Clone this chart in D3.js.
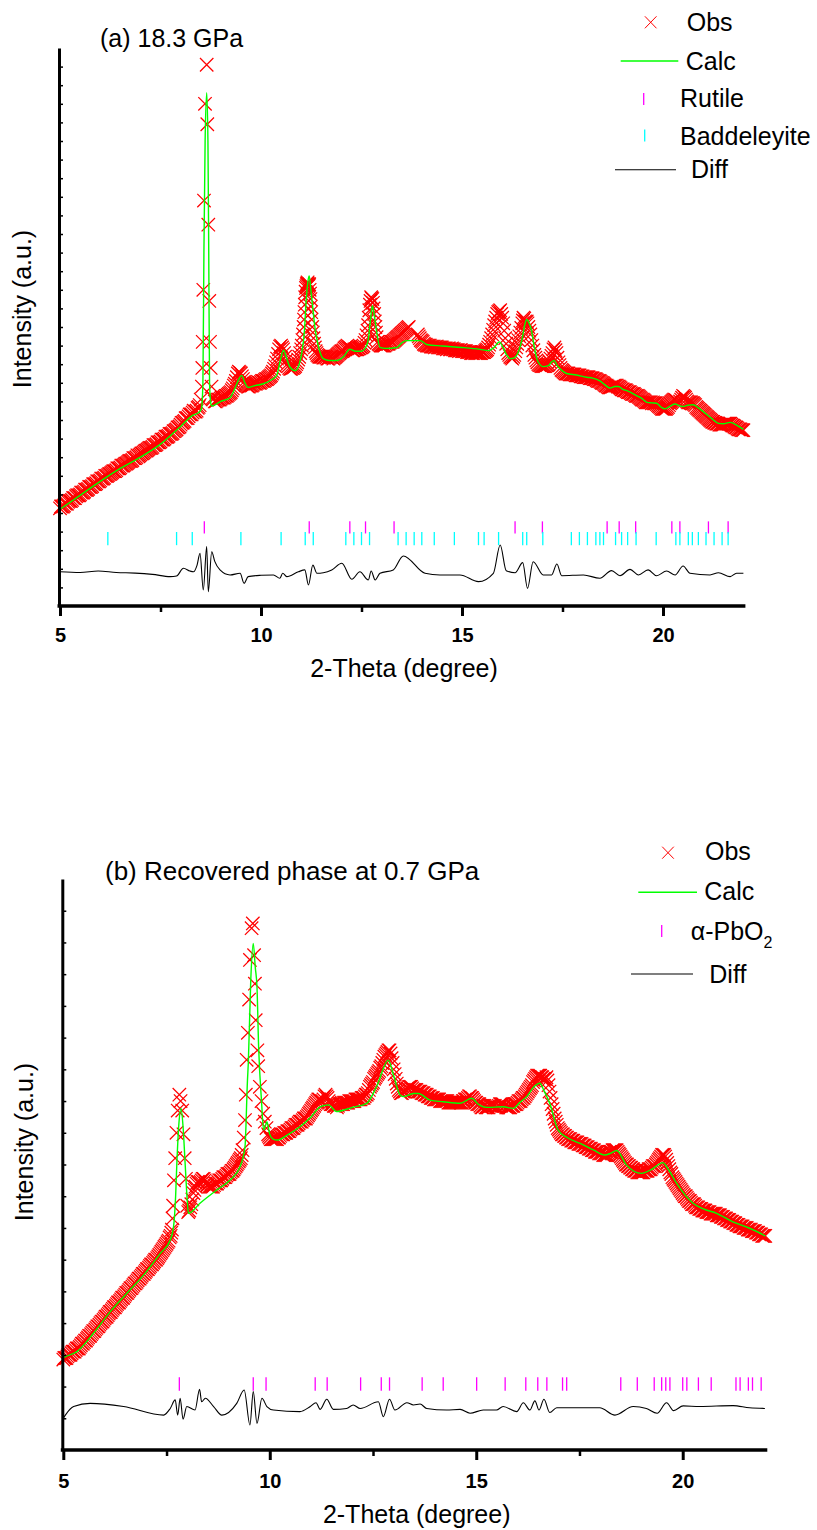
<!DOCTYPE html>
<html><head><meta charset="utf-8">
<script src="https://cdn.jsdelivr.net/npm/d3@7"></script>
<style>
body{margin:0;background:#fff}
svg{display:block}
text{font-family:"Liberation Sans",Arial,Helvetica,sans-serif;fill:#000}
</style>
</head><body>
<svg id="c" width="817" height="1530"></svg>
<script>
// ---------- shared axis data ----------
const xDomain = [5, 22];
const xTickValues = [5, 10, 15, 20];
const xMinorTicks = [7.5, 12.5, 17.5];
const xAxisTitle = "2-Theta (degree)";
const yAxisTitle = "Intensity (a.u.)";

// ---------- panel (a) 18.3 GPa ----------
const titleA = "(a) 18.3 GPa";
const legendA = ["Obs", "Calc", "Rutile", "Baddeleyite", "Diff"];
const obsA = [
[5.00,5.25],[5.05,5.35],[5.10,5.4],[5.15,5.5],[5.20,5.6],[5.25,5.65],[5.30,5.7],[5.35,5.8],[5.40,5.9],[5.45,5.95],
[5.50,6.0],[5.55,6.1],[5.60,6.15],[5.65,6.25],[5.70,6.3],[5.75,6.4],[5.80,6.45],[5.85,6.55],[5.90,6.6],[5.95,6.7],
[6.00,6.75],[6.05,6.85],[6.10,6.9],[6.15,7.0],[6.20,7.05],[6.25,7.1],[6.30,7.2],[6.35,7.25],[6.40,7.3],[6.45,7.4],
[6.50,7.45],[6.55,7.55],[6.60,7.6],[6.65,7.65],[6.70,7.75],[6.75,7.8],[6.80,7.85],[6.85,7.95],[6.90,8.0],[6.95,8.05],
[7.00,8.15],[7.05,8.2],[7.10,8.3],[7.15,8.35],[7.20,8.45],[7.25,8.5],[7.30,8.55],[7.35,8.65],[7.40,8.7],[7.45,8.8],
[7.50,8.85],[7.55,8.95],[7.60,9.0],[7.65,9.1],[7.70,9.15],[7.75,9.25],[7.80,9.3],[7.85,9.4],[7.90,9.5],[7.95,9.6],
[8.00,9.75],[8.05,9.85],[8.10,9.95],[8.15,10.1],[8.20,10.2],[8.25,10.3],[8.30,10.4],[8.35,10.45],[8.40,10.5],[8.45,10.7],
[8.50,11.1],[8.53,11.8],[8.54,12.8],[8.55,14.2],[8.565,17.0],[8.582,21.8],[8.607,27.0],[8.649,29.1],[8.664,25.9],[8.689,20.5],
[8.714,16.4],[8.731,14.2],[8.749,12.8],[8.77,11.8],[8.80,11.2],[8.85,11.0],[8.90,11.05],[8.95,11.1],[9.00,11.15],[9.05,11.2],
[9.10,11.25],[9.15,11.3],[9.20,11.4],[9.25,11.5],[9.30,11.7],[9.35,11.95],[9.40,12.3],[9.45,12.6],[9.50,12.5],[9.55,12.2],
[9.60,11.95],[9.65,11.85],[9.70,11.8],[9.75,11.85],[9.80,11.9],[9.85,11.95],[9.90,12.0],[9.95,12.0],[10.00,12.05],[10.05,12.1],
[10.10,12.15],[10.15,12.2],[10.20,12.3],[10.25,12.4],[10.30,12.6],[10.35,12.9],[10.40,13.3],[10.45,13.8],[10.50,14.0],[10.55,13.8],
[10.60,13.4],[10.65,13.0],[10.70,12.8],[10.75,12.75],[10.80,12.8],[10.85,12.9],[10.90,13.1],[10.95,13.4],[11.00,13.8],[11.03,14.3],
[11.06,15.0],[11.08,15.8],[11.10,16.6],[11.12,17.1],[11.14,17.3],[11.16,17.4],[11.18,17.2],[11.20,17.3],[11.22,16.8],[11.24,16.1],
[11.26,15.4],[11.29,14.7],[11.32,14.1],[11.36,13.7],[11.40,13.5],[11.45,13.4],[11.50,13.4],[11.55,13.35],[11.60,13.4],[11.65,13.3],
[11.70,13.35],[11.75,13.4],[11.80,13.3],[11.85,13.4],[11.90,13.5],[11.95,13.6],[12.00,13.7],[12.05,13.75],[12.10,13.9],[12.15,14.0],
[12.20,13.9],[12.25,13.8],[12.30,13.75],[12.35,13.8],[12.40,13.8],[12.45,13.85],[12.50,13.9],[12.55,14.0],[12.60,14.3],[12.65,14.8],
[12.68,15.5],[12.71,16.2],[12.74,16.6],[12.77,16.5],[12.80,16.0],[12.83,15.3],[12.86,14.7],[12.90,14.2],[12.95,14.05],[13.00,14.0],
[13.05,14.0],[13.10,14.05],[13.15,14.1],[13.20,14.15],[13.25,14.2],[13.30,14.25],[13.35,14.35],[13.40,14.45],[13.45,14.55],[13.50,14.65],
[13.55,14.75],[13.60,14.85],[13.65,14.95],
[13.90,14.6],[13.95,14.4],[14.00,14.25],[14.05,14.1],[14.10,14.05],[14.15,14.0],[14.20,14.0],[14.25,13.95],[14.30,13.95],[14.35,13.95],
[14.40,13.9],[14.45,13.9],[14.50,13.9],[14.55,13.85],[14.60,13.85],[14.65,13.85],[14.70,13.8],[14.75,13.85],[14.80,13.8],[14.85,13.75],
[14.90,13.75],[14.95,13.75],[15.00,13.7],[15.05,13.7],[15.10,13.7],[15.15,13.65],[15.20,13.65],[15.25,13.6],[15.30,13.65],[15.35,13.6],
[15.40,13.6],[15.45,13.6],[15.50,13.65],[15.55,13.65],[15.60,13.75],[15.65,13.9],[15.70,14.2],[15.75,14.6],[15.80,15.1],[15.85,15.5],
[15.90,15.8],[15.95,15.9],[16.00,15.5],[16.05,14.8],[16.10,14.1],[16.15,13.6],[16.20,13.4],[16.25,13.3],[16.30,13.5],[16.35,13.9],
[16.40,14.3],[16.45,14.7],[16.50,15.2],[16.53,15.5],[16.57,15.3],[16.61,15.3],[16.65,15.0],[16.70,14.6],[16.75,14.0],[16.80,13.5],
[16.85,13.2],[16.90,13.0],[16.95,12.95],[17.00,12.9],[17.05,12.9],[17.10,12.95],[17.15,13.0],[17.20,13.3],[17.25,13.6],[17.30,13.9],
[17.35,13.6],[17.40,13.1],[17.45,12.8],[17.50,12.65],[17.55,12.55],[17.60,12.5],[17.65,12.5],[17.70,12.45],[17.75,12.45],[17.80,12.45],
[17.85,12.4],[17.90,12.4],[17.95,12.35],[18.00,12.35],[18.05,12.3],[18.10,12.3],[18.15,12.3],[18.20,12.25],[18.25,12.25],[18.30,12.2],
[18.35,12.15],[18.40,12.1],[18.45,12.05],[18.50,12.0],[18.55,11.9],[18.60,11.85],[18.65,11.75],[18.70,11.75],[18.75,11.8],[18.80,11.85],
[18.85,11.85],[18.90,11.8],[18.95,11.7],[19.00,11.65],[19.05,11.6],[19.10,11.55],[19.15,11.5],[19.20,11.45],[19.25,11.4],[19.30,11.35],
[19.35,11.3],[19.40,11.25],[19.45,11.15],[19.50,11.1],[19.55,11.0],[19.60,10.95],[19.65,10.95],[19.70,10.95],[19.75,10.95],[19.80,10.9],
[19.85,10.85],[19.90,10.75],[19.95,10.65],[20.00,10.6],[20.05,10.6],[20.10,10.65],[20.15,10.8],[20.20,10.95],[20.25,11.05],[20.30,11.1],
[20.35,11.0],[20.40,10.9],[20.45,11.1],[20.50,11.3],[20.55,11.2],[20.60,11.0],[20.65,10.95],[20.70,10.95],[20.75,10.9],[20.80,10.8],
[20.85,10.65],[20.90,10.55],[20.95,10.45],[21.00,10.35],[21.05,10.25],[21.10,10.15],[21.15,10.05],[21.20,9.95],[21.25,9.9],[21.30,9.85],
[21.35,9.8],[21.40,9.75],[21.45,9.75],[21.50,9.75],[21.55,9.8],[21.60,9.8],[21.65,9.8],[21.70,9.75],[21.75,9.7],[21.80,9.6],
[21.85,9.55],[21.90,9.5],[21.95,9.45],[22.00,9.45]
];
const obsAmid = [
[5.025,5.35],[5.075,5.35],[5.125,5.5],[5.175,5.5],[5.225,5.65],[5.275,5.65],[5.325,5.8],[5.375,5.8],[5.425,5.95],[5.475,5.95],
[5.525,6.1],[5.575,6.1],[5.625,6.25],[5.675,6.25],[5.725,6.4],[5.775,6.4],[5.825,6.55],[5.875,6.55],[5.925,6.7],[5.975,6.7],
[6.025,6.85],[6.075,6.85],[6.125,7.0],[6.175,7.0],[6.225,7.1],[6.275,7.15],[6.325,7.25],[6.375,7.25],[6.425,7.4],[6.475,7.4],
[6.525,7.55],[6.575,7.55],[6.625,7.65],[6.675,7.7],[6.725,7.8],[6.775,7.8],[6.825,7.95],[6.875,7.95],[6.925,8.1],[6.975,8.1],
[7.025,8.2],[7.075,8.25],[7.125,8.35],[7.175,8.4],[7.225,8.5],[7.275,8.5],[7.325,8.65],[7.375,8.65],[7.425,8.8],[7.475,8.8],
[7.525,8.95],[7.575,8.95],[7.625,9.1],[7.675,9.1],[7.725,9.25],[7.775,9.25],[7.825,9.4],[7.875,9.45],[7.925,9.6],[7.975,9.65],
[8.025,9.85],[8.075,9.9],[8.125,10.1],[8.175,10.1],[8.225,10.3],[8.275,10.3],[8.325,10.5],[8.375,10.45],[8.425,10.65],[8.475,10.8],
[8.825,11.15],[8.875,11.0],[8.925,11.1],[8.975,11.1],[9.025,11.2],[9.075,11.2],[9.125,11.3],[9.175,11.35],[9.225,11.45],[9.275,11.6],
[9.325,11.85],[9.375,12.1],[9.425,12.5],[9.475,12.55],[9.525,12.35],[9.575,12.05],[9.625,11.9],[9.675,11.8],[9.725,11.85],[9.775,11.85],
[9.825,11.95],[9.875,11.95],[9.925,12.05],[9.975,12.0],[10.025,12.1],[10.075,12.1],[10.125,12.2],[10.175,12.25],[10.225,12.35],[10.275,12.5],
[10.325,12.75],[10.375,13.1],[10.425,13.55],[10.475,13.95],[10.525,13.9],[10.575,13.6],[10.625,13.2],[10.675,12.9],[10.725,12.75],[10.775,12.8],
[10.825,12.85],[10.875,13.0],[10.925,13.25],[10.975,13.6],[11.015,14.0],[11.045,14.6],[11.07,15.4],[11.09,16.2],[11.11,16.9],[11.13,17.2],
[11.15,17.35],[11.17,17.3],[11.19,17.25],[11.21,17.0],[11.23,16.5],[11.25,15.8],[11.275,15.0],[11.305,14.4],[11.34,13.9],[11.38,13.6],
[11.425,13.45],[11.475,13.4],[11.525,13.4],[11.575,13.35],[11.625,13.35],[11.675,13.3],[11.725,13.4],[11.775,13.35],[11.825,13.35],[11.875,13.45],
[11.925,13.55],[11.975,13.65],[12.025,13.7],[12.075,13.85],[12.125,13.95],[12.175,13.95],[12.225,13.85],[12.275,13.75],[12.325,13.8],[12.375,13.8],
[12.425,13.85],[12.475,13.9],[12.525,13.95],[12.575,14.15],[12.625,14.55],[12.665,15.1],[12.695,15.9],[12.725,16.4],[12.755,16.55],[12.785,16.3],
[12.815,15.7],[12.845,15.0],[12.875,14.45],[12.925,14.1],[12.975,14.0],[13.025,14.0],[13.075,14.0],[13.125,14.1],[13.175,14.1],[13.225,14.2],
[13.275,14.2],[13.325,14.3],[13.375,14.4],[13.425,14.5],[13.475,14.6],[13.525,14.7],[13.575,14.8],[13.625,14.9],[13.675,15.0],
[13.925,14.5],[13.975,14.3],[14.025,14.2],[14.075,14.05],[14.125,14.0],[14.175,14.0],[14.225,13.95],[14.275,13.95],[14.325,13.9],[14.375,13.95],
[14.425,13.9],[14.475,13.9],[14.525,13.85],[14.575,13.85],[14.625,13.8],[14.675,13.85],[14.725,13.8],[14.775,13.8],[14.825,13.75],[14.875,13.75],
[14.925,13.7],[14.975,13.75],[15.025,13.7],[15.075,13.7],[15.125,13.65],[15.175,13.65],[15.225,13.6],[15.275,13.6],[15.325,13.6],[15.375,13.6],
[15.425,13.6],[15.475,13.6],[15.525,13.65],[15.575,13.7],[15.625,13.8],[15.675,14.05],[15.725,14.4],[15.775,14.85],[15.825,15.3],[15.875,15.7],
[15.925,15.85],[15.975,15.7],[16.025,15.2],[16.075,14.4],[16.125,13.8],[16.175,13.5],[16.225,13.35],[16.275,13.4],[16.325,13.7],[16.375,14.1],
[16.425,14.5],[16.475,14.95],[16.515,15.35],[16.55,15.45],[16.59,15.25],[16.63,15.2],[16.675,14.8],[16.725,14.3],[16.775,13.75],[16.825,13.35],
[16.875,13.1],[16.925,12.95],[16.975,12.9],[17.025,12.9],[17.075,12.9],[17.125,12.95],[17.175,13.15],[17.225,13.45],[17.275,13.8],[17.325,13.75],
[17.375,13.35],[17.425,12.95],[17.475,12.7],[17.525,12.6],[17.575,12.5],[17.625,12.5],[17.675,12.45],[17.725,12.45],[17.775,12.45],[17.825,12.4],
[17.875,12.4],[17.925,12.4],[17.975,12.35],[18.025,12.3],[18.075,12.3],[18.125,12.3],[18.175,12.25],[18.225,12.25],[18.275,12.2],[18.325,12.2],
[18.375,12.1],[18.425,12.1],[18.475,12.0],[18.525,11.95],[18.575,11.85],[18.625,11.8],[18.675,11.75],[18.725,11.8],[18.775,11.85],[18.825,11.85],
[18.875,11.8],[18.925,11.75],[18.975,11.65],[19.025,11.6],[19.075,11.6],[19.125,11.5],[19.175,11.5],[19.225,11.4],[19.275,11.4],[19.325,11.3],
[19.375,11.3],[19.425,11.2],[19.475,11.1],[19.525,11.05],[19.575,10.95],[19.625,10.95],[19.675,10.95],[19.725,10.9],[19.775,10.9],[19.825,10.9],
[19.875,10.8],[19.925,10.7],[19.975,10.6],[20.025,10.6],[20.075,10.6],[20.125,10.7],[20.175,10.9],[20.225,11.0],[20.275,11.1],[20.325,11.05],
[20.375,10.95],[20.425,11.0],[20.475,11.2],[20.525,11.25],[20.575,11.1],[20.625,10.95],[20.675,10.95],[20.725,10.9],[20.775,10.85],[20.825,10.7],
[20.875,10.6],[20.925,10.5],[20.975,10.4],[21.025,10.3],[21.075,10.2],[21.125,10.1],[21.175,10.0],[21.225,9.9],[21.275,9.85],[21.325,9.8],
[21.375,9.8],[21.425,9.75],[21.475,9.75],[21.525,9.8],[21.575,9.8],[21.625,9.8],[21.675,9.8],[21.725,9.7],[21.775,9.65],[21.825,9.6],
[21.875,9.5],[21.925,9.5],[21.975,9.45]
];
const calcA = [
[5.0,5.2],[5.5,5.95],[6.0,6.7],[6.5,7.4],[7.0,8.0],[7.5,8.7],[8.0,9.65],[8.3,10.25],[8.45,10.4],[8.52,10.6],
[8.555,12],[8.58,19],[8.61,25],[8.65,27.6],[8.68,25],[8.70,19],[8.72,12],[8.75,10.9],[8.77,10.75],[9.0,11.0],
[9.23,11.2],[9.35,11.7],[9.45,12.2],[9.52,12.4],[9.6,12.0],[9.68,11.75],[9.85,11.85],[10.06,11.95],[10.25,12.15],[10.39,12.4],
[10.48,13.2],[10.56,13.75],[10.64,13.3],[10.72,12.85],[10.85,12.65],[10.95,13.0],[11.01,13.55],[11.08,14.8],[11.12,16.3],[11.17,17.5],
[11.2,17.75],[11.24,17.0],[11.29,16.0],[11.34,15.0],[11.38,14.45],[11.46,13.7],[11.55,13.3],[11.7,13.2],[11.88,13.2],[12.05,13.4],
[12.21,13.8],[12.35,13.7],[12.5,13.7],[12.6,13.9],[12.67,14.35],[12.72,15.3],[12.77,16.15],[12.82,15.6],[12.88,14.7],[12.96,13.9],
[13.1,13.85],[13.38,13.9],[13.5,14.15],[13.62,14.27],[13.96,14.27],[14.12,14.06],[14.5,13.98],[15.0,13.9],[15.45,13.8],[15.66,13.73],
[15.8,13.9],[15.93,14.2],[16.02,13.9],[16.11,13.5],[16.2,13.3],[16.28,13.32],[16.4,13.65],[16.5,14.4],[16.56,15.1],[16.61,15.4],
[16.67,15.2],[16.73,14.8],[16.8,13.9],[16.86,13.3],[16.95,12.95],[17.02,12.87],[17.15,12.92],[17.22,13.1],[17.29,13.2],[17.36,12.95],
[17.44,12.75],[17.6,12.5],[17.85,12.42],[18.1,12.3],[18.25,12.25],[18.43,12.1],[18.55,11.9],[18.68,11.72],[18.8,11.8],[18.89,11.8],
[19.0,11.65],[19.1,11.58],[19.35,11.3],[19.48,11.15],[19.6,10.95],[19.72,10.92],[19.84,10.9],[19.95,10.7],[20.05,10.6],[20.18,10.75],
[20.3,10.86],[20.4,10.78],[20.5,10.72],[20.62,10.8],[20.75,10.82],[20.88,10.65],[21.0,10.45],[21.2,10.1],[21.38,9.82],[21.5,9.8],
[21.67,9.87],[21.85,9.7],[22.0,9.5]
];
const diffA = [
[5.0,1.84],[5.5,1.8],[5.95,1.88],[6.4,1.8],[6.87,1.77],[7.3,1.7],[7.74,1.58],[7.9,1.61],[8.07,2.03],[8.23,1.88],
[8.32,1.84],[8.41,2.2],[8.483,2.83],[8.565,0.86],[8.649,3.19],[8.689,0.77],[8.774,2.92],[8.85,2.4],[8.98,1.94],[9.23,1.67],
[9.48,1.76],[9.58,1.22],[9.68,1.58],[10.0,1.65],[10.31,1.67],[10.47,1.49],[10.54,1.76],[10.64,1.58],[10.93,1.84],[11.09,1.94],
[11.18,1.13],[11.29,2.2],[11.39,1.76],[11.55,1.79],[11.76,1.94],[12.01,2.3],[12.26,1.44],[12.46,1.84],[12.67,1.4],[12.74,1.88],
[12.84,1.4],[12.96,1.76],[13.29,1.94],[13.54,2.69],[14.08,1.76],[14.45,1.67],[14.95,1.67],[15.41,1.31],[15.78,1.76],[15.95,3.28],
[16.1,1.9],[16.32,1.79],[16.51,2.33],[16.63,0.95],[16.77,2.38],[17.02,1.67],[17.23,1.67],[17.36,2.26],[17.48,1.63],[18.02,1.67],
[18.43,1.49],[18.72,1.9],[18.93,1.63],[19.18,1.97],[19.39,1.67],[19.63,1.94],[19.84,1.63],[20.09,1.88],[20.3,1.67],[20.5,2.15],
[20.67,1.76],[21.17,1.67],[21.38,1.79],[21.67,1.58],[21.83,1.76],[22.0,1.76]
];
const rutileA = [8.59,11.2,12.21,12.6,13.31,16.32,17.0,18.61,18.91,19.32,20.22,20.42,21.13,21.62];
const baddeleyiteA = [6.19,7.9,8.29,9.5,10.5,11.1,11.3,12.11,12.31,12.5,12.7,13.41,13.61,13.81,14.0,14.31,14.81,15.41,15.55,15.91,16.51,16.61,17.01,17.72,17.92,18.12,18.33,18.43,18.52,18.82,18.97,19.12,19.33,19.83,20.32,20.42,20.63,20.73,20.88,21.07,21.27,21.47,21.62];

// ---------- panel (b) recovered phase ----------
const titleB = "(b) Recovered phase at 0.7 GPa";
const legendB = ["Obs", "Calc", "α-PbO", "Diff"];
const obsB = [
[5.00,2.85],[5.05,2.9],[5.10,2.95],[5.15,3.0],[5.20,3.05],[5.25,3.1],[5.30,3.15],[5.35,3.2],[5.40,3.25],[5.45,3.35],
[5.50,3.4],[5.55,3.45],[5.60,3.55],[5.65,3.6],[5.70,3.7],[5.75,3.75],[5.80,3.85],[5.85,3.9],[5.90,4.0],[5.95,4.05],
[6.00,4.15],[6.05,4.2],[6.10,4.3],[6.15,4.35],[6.20,4.45],[6.25,4.5],[6.30,4.6],[6.35,4.65],[6.40,4.75],[6.45,4.8],
[6.50,4.9],[6.55,4.95],[6.60,5.05],[6.65,5.1],[6.70,5.2],[6.75,5.25],[6.80,5.35],[6.85,5.4],[6.90,5.5],[6.95,5.55],
[7.00,5.65],[7.05,5.7],[7.10,5.8],[7.15,5.85],[7.20,5.95],[7.25,6.0],[7.30,6.1],[7.35,6.2],[7.40,6.3],[7.45,6.4],
[7.50,6.5],[7.55,6.6],[7.60,6.75],[7.63,6.95],[7.66,7.7],[7.68,8.5],[7.71,9.2],[7.74,10.0],[7.77,10.7],[7.81,11.2],
[7.84,11.0],[7.88,10.7],[7.91,9.95],[7.94,9.2],[7.97,8.55],[8.00,7.7],[8.05,7.55],[8.10,7.75],[8.15,8.1],[8.20,8.3],
[8.25,8.45],[8.30,8.4],[8.35,8.5],[8.40,8.55],[8.45,8.4],[8.50,8.35],[8.55,8.3],[8.60,8.3],[8.65,8.35],[8.70,8.4],
[8.75,8.45],[8.80,8.5],[8.85,8.55],[8.90,8.6],[8.95,8.65],[9.00,8.7],[9.05,8.75],[9.10,8.8],[9.15,8.9],[9.20,9.0],
[9.25,9.1],[9.30,9.2],[9.34,9.45],[9.37,9.85],[9.40,10.4],[9.42,11.2],[9.44,12.3],[9.47,13.15],[9.50,14.2],[9.52,15.45],
[9.56,16.45],[9.59,16.6],[9.62,15.6],[9.64,14.7],[9.66,13.55],[9.70,12.6],[9.72,12.1],[9.76,11.45],[9.80,11.0],[9.84,10.6],
[9.88,10.35],[9.92,10.15],[9.96,9.95],[10.00,9.85],[10.05,9.8],[10.10,9.8],[10.15,9.8],[10.20,9.85],[10.25,9.9],[10.30,9.95],
[10.35,10.0],[10.40,10.0],[10.45,10.05],[10.50,10.1],[10.55,10.15],[10.60,10.2],[10.65,10.25],[10.70,10.3],[10.75,10.35],[10.80,10.4],
[10.85,10.45],[10.90,10.5],[10.95,10.6],[11.00,10.7],[11.05,10.8],[11.10,10.9],[11.15,11.0],[11.20,11.05],[11.25,11.0],[11.30,11.05],
[11.35,11.2],[11.40,11.1],[11.45,10.95],[11.50,10.9],[11.55,10.85],[11.60,10.85],[11.65,10.85],[11.70,10.9],[11.75,10.9],[11.80,10.95],
[11.85,10.95],[11.90,10.95],[11.95,11.0],[12.00,11.0],[12.05,11.0],[12.10,11.05],[12.15,11.05],[12.20,11.05],[12.25,11.1],[12.30,11.15],
[12.35,11.2],[12.40,11.35],[12.45,11.5],[12.50,11.6],[12.55,11.75],[12.60,11.85],[12.65,11.95],[12.70,12.1],[12.75,12.3],[12.80,12.45],
[12.85,12.55],[12.90,12.6],[12.95,12.35],[13.00,12.0],[13.05,11.7],[13.10,11.45],[13.15,11.3],[13.20,11.25],[13.25,11.3],[13.30,11.35],
[13.35,11.4],[13.40,11.45],[13.45,11.4],[13.50,11.35],[13.55,11.35],[13.60,11.3],[13.65,11.3],[13.70,11.25],[13.75,11.2],[13.80,11.2],
[13.85,11.15],[13.90,11.1],[13.95,11.1],[14.00,11.05],[14.05,11.05],[14.10,11.05],[14.15,11.0],[14.20,11.0],[14.25,11.0],[14.30,11.0],
[14.35,10.95],[14.40,10.95],[14.45,10.95],[14.50,10.95],[14.55,10.95],[14.60,10.95],[14.65,10.95],[14.70,11.0],[14.75,11.05],[14.80,11.1],
[14.85,11.15],[14.90,11.1],[14.95,11.0],[15.00,10.95],[15.05,10.9],[15.10,10.85],[15.15,10.8],[15.20,10.85],[15.25,10.8],[15.30,10.8],
[15.35,10.85],[15.40,10.85],[15.45,10.85],[15.50,10.8],[15.55,10.85],[15.60,10.9],[15.65,10.9],[15.70,10.85],[15.75,10.8],[15.80,10.8],
[15.85,10.85],[15.90,10.85],[15.95,10.9],[16.00,10.95],[16.05,11.0],[16.10,11.05],[16.15,11.1],[16.20,11.2],[16.25,11.3],[16.30,11.4],
[16.35,11.5],[16.40,11.65],[16.45,11.75],[16.50,11.8],[16.55,11.8],[16.60,11.75],[16.65,11.7],[16.70,11.75],[16.75,11.5],[16.80,11.1],
[16.85,10.75],[16.90,10.45],[16.95,10.25],[17.00,10.1],[17.05,10.0],[17.10,9.95],[17.15,9.9],[17.20,9.85],[17.25,9.8],[17.30,9.75],
[17.35,9.75],[17.40,9.7],[17.45,9.7],[17.50,9.65],[17.55,9.65],[17.60,9.6],[17.65,9.55],[17.70,9.55],[17.75,9.5],[17.80,9.45],
[17.85,9.45],[17.90,9.4],[17.95,9.4],[18.00,9.35],[18.05,9.35],[18.10,9.3],[18.15,9.3],[18.20,9.35],[18.25,9.4],[18.30,9.45],
[18.35,9.45],[18.40,9.45],[18.45,9.35],[18.50,9.25],[18.55,9.15],[18.60,9.05],[18.65,9.0],[18.70,8.95],[18.75,8.9],[18.80,8.85],
[18.85,8.8],[18.90,8.75],[18.95,8.75],[19.00,8.75],[19.05,8.75],[19.10,8.8],[19.15,8.8],[19.20,8.85],[19.25,8.9],[19.30,8.95],
[19.35,9.0],[19.40,9.1],[19.45,9.2],[19.50,9.3],[19.55,9.3],[19.60,9.15],[19.65,8.95],[19.70,8.75],[19.75,8.6],[19.80,8.5],
[19.85,8.4],[19.90,8.3],[19.95,8.2],[20.00,8.1],[20.05,8.0],[20.10,7.95],[20.15,7.85],[20.20,7.8],[20.25,7.75],[20.30,7.7],
[20.35,7.65],[20.40,7.6],[20.45,7.6],[20.50,7.55],[20.55,7.55],[20.60,7.5],[20.65,7.5],[20.70,7.45],[20.75,7.45],[20.80,7.45],
[20.85,7.4],[20.90,7.4],[20.95,7.35],[21.00,7.3],[21.05,7.3],[21.10,7.25],[21.15,7.2],[21.20,7.2],[21.25,7.15],[21.30,7.1],
[21.35,7.1],[21.40,7.05],[21.45,7.05],[21.50,7.0],[21.55,7.0],[21.60,6.95],[21.65,6.95],[21.70,6.9],[21.75,6.9],[21.80,6.85],
[21.85,6.8],[21.90,6.8],[21.95,6.75],[22.00,6.75]
];
const obsBmid = [
[5.025,2.9],[5.075,2.9],[5.125,3.0],[5.175,3.0],[5.225,3.1],[5.275,3.1],[5.325,3.2],[5.375,3.2],[5.425,3.3],[5.475,3.35],
[5.525,3.45],[5.575,3.5],[5.625,3.6],[5.675,3.65],[5.725,3.75],[5.775,3.8],[5.825,3.9],[5.875,3.95],[5.925,4.05],[5.975,4.1],
[6.025,4.2],[6.075,4.25],[6.125,4.35],[6.175,4.4],[6.225,4.5],[6.275,4.55],[6.325,4.65],[6.375,4.7],[6.425,4.8],[6.475,4.85],
[6.525,4.95],[6.575,5.0],[6.625,5.1],[6.675,5.15],[6.725,5.25],[6.775,5.3],[6.825,5.4],[6.875,5.45],[6.925,5.55],[6.975,5.6],
[7.025,5.7],[7.075,5.75],[7.125,5.85],[7.175,5.9],[7.225,6.0],[7.275,6.05],[7.325,6.15],[7.375,6.25],[7.425,6.35],[7.475,6.45],
[7.525,6.55],[7.575,6.7],[7.615,6.85],[7.645,7.3],
[8.025,7.5],[8.075,7.65],[8.125,7.9],[8.175,8.2],[8.225,8.4],[8.275,8.45],[8.325,8.45],[8.375,8.55],[8.425,8.5],[8.475,8.35],
[8.525,8.3],[8.575,8.3],[8.625,8.3],[8.675,8.4],[8.725,8.4],[8.775,8.5],[8.825,8.5],[8.875,8.6],[8.925,8.6],[8.975,8.7],
[9.025,8.7],[9.075,8.8],[9.125,8.85],[9.175,8.95],[9.225,9.05],[9.275,9.15],[9.32,9.3],
[9.98,9.9],[10.025,9.8],[10.075,9.8],[10.125,9.8],[10.175,9.8],[10.225,9.85],[10.275,9.95],[10.325,9.95],[10.375,10.0],[10.425,10.05],
[10.475,10.05],[10.525,10.15],[10.575,10.15],[10.625,10.25],[10.675,10.25],[10.725,10.35],[10.775,10.35],[10.825,10.45],[10.875,10.45],[10.925,10.55],
[10.975,10.65],[11.025,10.75],[11.075,10.85],[11.125,10.95],[11.175,11.05],[11.225,11.0],[11.275,11.0],[11.325,11.15],[11.375,11.15],[11.425,11.0],
[11.475,10.9],[11.525,10.9],[11.575,10.85],[11.625,10.8],[11.675,10.9],[11.725,10.9],[11.775,10.9],[11.825,10.95],[11.875,10.95],[11.925,11.0],
[11.975,11.0],[12.025,11.0],[12.075,11.05],[12.125,11.05],[12.175,11.05],[12.225,11.1],[12.275,11.1],[12.325,11.2],[12.375,11.25],[12.425,11.45],
[12.475,11.55],[12.525,11.7],[12.575,11.8],[12.625,11.9],[12.675,12.05],[12.725,12.2],[12.775,12.4],[12.825,12.5],[12.875,12.6],[12.925,12.5],
[12.975,12.2],[13.025,11.85],[13.075,11.55],[13.125,11.35],[13.175,11.25],[13.225,11.3],[13.275,11.3],[13.325,11.4],[13.375,11.45],[13.425,11.45],
[13.475,11.35],[13.525,11.35],[13.575,11.3],[13.625,11.3],[13.675,11.25],[13.725,11.25],[13.775,11.2],[13.825,11.15],[13.875,11.15],[13.925,11.1],
[13.975,11.05],[14.025,11.05],[14.075,11.05],[14.125,11.0],[14.175,11.0],[14.225,11.0],[14.275,11.0],[14.325,10.95],[14.375,10.95],[14.425,10.95],
[14.475,10.95],[14.525,10.95],[14.575,10.95],[14.625,10.95],[14.675,11.0],[14.725,11.05],[14.775,11.05],[14.825,11.15],[14.875,11.1],[14.925,11.05],
[14.975,10.95],[15.025,10.9],[15.075,10.9],[15.125,10.8],[15.175,10.85],[15.225,10.8],[15.275,10.8],[15.325,10.85],[15.375,10.85],[15.425,10.85],
[15.475,10.8],[15.525,10.8],[15.575,10.9],[15.625,10.9],[15.675,10.85],[15.725,10.8],[15.775,10.8],[15.825,10.8],[15.875,10.85],[15.925,10.9],
[15.975,10.9],[16.025,11.0],[16.075,11.0],[16.125,11.1],[16.175,11.15],[16.225,11.25],[16.275,11.35],[16.325,11.45],[16.375,11.6],[16.425,11.7],
[16.475,11.8],[16.525,11.8],[16.575,11.75],[16.625,11.7],[16.675,11.7],[16.725,11.65],[16.775,11.3],[16.825,10.9],[16.875,10.6],[16.925,10.35],
[16.975,10.15],[17.025,10.05],[17.075,9.95],[17.125,9.9],[17.175,9.85],[17.225,9.8],[17.275,9.8],[17.325,9.75],[17.375,9.7],[17.425,9.7],
[17.475,9.65],[17.525,9.65],[17.575,9.6],[17.625,9.6],[17.675,9.55],[17.725,9.5],[17.775,9.5],[17.825,9.45],[17.875,9.4],[17.925,9.4],
[17.975,9.35],[18.025,9.35],[18.075,9.3],[18.125,9.3],[18.175,9.3],[18.225,9.4],[18.275,9.4],[18.325,9.45],[18.375,9.45],[18.425,9.4],
[18.475,9.3],[18.525,9.2],[18.575,9.1],[18.625,9.0],[18.675,8.95],[18.725,8.9],[18.775,8.85],[18.825,8.8],[18.875,8.8],[18.925,8.75],
[18.975,8.75],[19.025,8.75],[19.075,8.8],[19.125,8.8],[19.175,8.85],[19.225,8.85],[19.275,8.95],[19.325,8.95],[19.375,9.05],[19.425,9.15],
[19.475,9.25],[19.525,9.3],[19.575,9.25],[19.625,9.05],[19.675,8.85],[19.725,8.7],[19.775,8.55],[19.825,8.45],[19.875,8.35],[19.925,8.25],
[19.975,8.15],[20.025,8.05],[20.075,8.0],[20.125,7.9],[20.175,7.85],[20.225,7.75],[20.275,7.75],[20.325,7.65],[20.375,7.65],[20.425,7.6],
[20.475,7.55],[20.525,7.55],[20.575,7.5],[20.625,7.5],[20.675,7.45],[20.725,7.45],[20.775,7.45],[20.825,7.4],[20.875,7.4],[20.925,7.35],
[20.975,7.35],[21.025,7.3],[21.075,7.25],[21.125,7.25],[21.175,7.2],[21.225,7.15],[21.275,7.15],[21.325,7.1],[21.375,7.05],[21.425,7.05],
[21.475,7.0],[21.525,7.0],[21.575,6.95],[21.625,6.95],[21.675,6.9],[21.725,6.9],[21.775,6.85],[21.825,6.85],[21.875,6.8],[21.925,6.75],
[21.975,6.75]
];
const calcB = [
[5.0,2.9],[5.05,2.94],[5.33,3.1],[5.73,3.68],[6.1,4.3],[6.54,4.94],[7.0,5.6],[7.35,6.2],[7.59,6.62],[7.67,7.04],
[7.72,8.0],[7.75,9.04],[7.8,10.3],[7.85,10.77],[7.9,10.2],[7.95,9.04],[8.0,7.9],[8.03,7.46],[8.31,7.78],[8.72,8.2],
[9.04,8.51],[9.28,8.93],[9.4,9.56],[9.46,11.66],[9.48,12.19],[9.54,14.82],[9.6,15.97],[9.65,15.2],[9.69,14.61],[9.73,12.71],
[9.8,11.0],[9.85,10.09],[9.89,10.2],[9.93,10.35],[10.0,9.95],[10.08,9.8],[10.17,9.77],[10.45,9.95],[10.73,10.19],[11.0,10.5],
[11.22,10.82],[11.42,10.88],[11.62,10.67],[12.0,10.8],[12.35,10.93],[12.6,11.5],[12.87,12.29],[13.0,11.8],[13.15,11.2],[13.23,11.14],
[13.48,11.24],[13.6,11.24],[13.88,11.03],[14.2,10.98],[14.61,10.93],[14.89,11.09],[15.05,10.9],[15.25,10.8],[15.65,10.82],[15.9,10.77],
[16.05,10.95],[16.22,11.14],[16.4,11.45],[16.54,11.56],[16.65,11.3],[16.78,10.93],[16.98,10.09],[17.2,9.85],[17.59,9.62],[17.85,9.45],
[18.11,9.3],[18.25,9.35],[18.4,9.44],[18.64,8.98],[19.0,8.72],[19.25,8.85],[19.52,9.06],[19.65,8.85],[19.85,8.41],[20.25,7.78],
[20.5,7.6],[20.82,7.46],[21.2,7.2],[21.62,6.99],[22.0,6.75]
];
const diffB = [
[5.0,1.0],[5.05,1.1],[5.25,1.37],[5.65,1.47],[6.46,1.37],[7.43,1.1],[7.59,1.31],[7.71,1.58],[7.77,1.1],[7.83,1.63],
[7.9,0.97],[7.99,1.37],[8.19,1.26],[8.3,1.91],[8.35,1.52],[8.44,1.63],[8.64,1.37],[8.84,1.1],[9.2,1.47],[9.38,1.89],
[9.52,0.79],[9.6,1.84],[9.69,0.84],[9.81,1.63],[9.93,1.37],[10.09,1.26],[10.73,1.21],[10.98,1.37],[11.12,1.49],[11.22,1.28],
[11.38,1.6],[11.54,1.28],[11.86,1.31],[12.02,1.42],[12.19,1.31],[12.63,1.52],[12.75,1.05],[12.9,1.6],[13.03,1.26],[13.32,1.49],
[13.48,1.42],[13.64,1.45],[13.8,1.31],[14.28,1.26],[14.61,1.28],[14.85,1.16],[15.17,1.26],[15.49,1.26],[15.65,1.37],[15.98,1.21],
[16.14,1.49],[16.3,1.26],[16.42,1.55],[16.52,1.26],[16.64,1.6],[16.78,1.18],[16.95,1.33],[17.99,1.33],[18.36,1.1],[18.8,1.37],
[19.12,1.31],[19.38,1.16],[19.61,1.49],[19.78,1.24],[20.01,1.39],[20.41,1.37],[21.22,1.4],[21.62,1.33],[21.99,1.31]
];
const pbo2B = [7.81,9.6,9.91,11.1,11.39,12.2,12.7,12.9,13.69,14.2,15.01,15.7,16.2,16.49,16.71,17.09,17.19,18.5,18.9,19.31,19.49,19.59,19.69,20.0,20.1,20.38,20.69,21.29,21.39,21.59,21.69,21.9];

// ---------- drawing ----------
const svg = d3.select("#c");
const FONT = 25;
const RED = "#ff0000", GREEN = "#00ff00", MAGENTA = "#ff00ff", CYAN = "#00ffff";
const xMark = "M-6.7,-6.7L6.7,6.7M-6.7,6.7L6.7,-6.7";

function drawPanel(p) {
  const x = d3.scaleLinear().domain(xDomain).range(p.xRange);
  const y = d3.scaleLinear().domain(p.yDomain).range(p.yRange);
  const g = svg.append("g");

  p.phases.forEach(ph => {
    g.append("g").selectAll("line").data(ph.values).join("line")
      .attr("x1", d => x(d)).attr("x2", d => x(d))
      .attr("y1", y(ph.lo)).attr("y2", y(ph.hi))
      .attr("stroke", ph.color).attr("stroke-width", 1.3);
  });

  g.append("path").datum(p.diff)
    .attr("d", d3.line().x(d => x(d[0])).y(d => y(d[1])).curve(d3.curveMonotoneX))
    .attr("fill", "none").attr("stroke", "#000").attr("stroke-width", 1.1);

  const obsAll = p.obs.concat(p.obsMid).sort((a, b) => a[0] - b[0]);
  g.append("g").selectAll("path").data(obsAll).join("path")
    .attr("transform", d => `translate(${x(d[0])},${y(d[1])})`)
    .attr("d", xMark).attr("fill", "none").attr("stroke", RED).attr("stroke-width", 1.25);

  g.append("path").datum(p.calc)
    .attr("d", d3.line().x(d => x(d[0])).y(d => y(d[1])).curve(d3.curveMonotoneX))
    .attr("fill", "none").attr("stroke", GREEN).attr("stroke-width", 1.4);

  const yTicks = d3.range(p.yDomain[0] + 1, p.yDomain[1], 1);
  const ya = g.append("g").attr("transform", `translate(${p.xRange[0] - 1},0)`)
    .call(d3.axisLeft(y).tickValues(yTicks).tickSize(-4).tickSizeOuter(0).tickFormat(""));
  ya.select(".domain").attr("stroke-width", 3);
  ya.selectAll(".tick line").attr("stroke-width", 1.5);

  const xa = g.append("g").attr("transform", `translate(0,${p.yRange[0]})`)
    .call(d3.axisBottom(x).tickValues(xTickValues).tickSize(10).tickSizeOuter(0).tickPadding(p.tickPad).tickFormat(d3.format("d")));
  xa.select(".domain").attr("stroke-width", 3.5).attr("d", `M${p.xRange[0]-2.5},0H${p.xRange[1]+2}`);
  xa.selectAll(".tick line").attr("stroke-width", 3);
  xa.selectAll(".tick text").attr("font-size", 20).attr("font-weight", "bold")
    .style("font-family", '"Liberation Sans",Arial,sans-serif');
  const xm = g.append("g").attr("transform", `translate(0,${p.yRange[0]})`)
    .call(d3.axisBottom(x).tickValues(xMinorTicks).tickSize(6).tickFormat(""));
  xm.select(".domain").remove();
  xm.selectAll(".tick line").attr("stroke-width", 2.5);

  g.append("text").attr("x", p.titlePos[0]).attr("y", p.titlePos[1])
    .attr("font-size", p.titleSize).text(p.title);
  g.append("text").attr("x", p.xTitlePos[0]).attr("y", p.xTitlePos[1])
    .attr("text-anchor", "middle").attr("font-size", FONT).text(xAxisTitle);
  g.append("text").attr("transform", `translate(${p.yTitlePos[0]},${p.yTitlePos[1]}) rotate(-90)`)
    .attr("text-anchor", "middle").attr("font-size", FONT).text(yAxisTitle);

  const lg = g.append("g");
  p.legend.forEach(it => {
    if (it.kind === "obs") {
      lg.append("path").attr("transform", `translate(${it.sx},${it.sy})`).attr("d", "M-5.8,-6L5.8,6M-5.8,6L5.8,-6")
        .attr("fill", "none").attr("stroke", RED).attr("stroke-width", 1);
    } else if (it.kind === "line") {
      lg.append("line").attr("x1", it.sx).attr("x2", it.sx2).attr("y1", it.sy).attr("y2", it.sy)
        .attr("stroke", it.color).attr("stroke-width", it.color === GREEN ? 1.4 : 1.1);
    } else if (it.kind === "tick") {
      lg.append("line").attr("x1", it.sx).attr("x2", it.sx).attr("y1", it.sy - 6).attr("y2", it.sy + 6)
        .attr("stroke", it.color).attr("stroke-width", 1.3);
    }
    const t = lg.append("text").attr("x", it.tx).attr("y", it.ty).attr("font-size", FONT).text(it.label);
    if (it.sub) t.append("tspan").attr("font-size", 16).attr("dy", 8).text(it.sub);
  });
}

drawPanel({
  xRange: [60, 743.4], yDomain: [0, 30], yRange: [606, 48], tickPad: 12,
  obs: obsA, obsMid: obsAmid, calc: calcA, diff: diffA,
  phases: [
    {values: rutileA, lo: 3.9, hi: 4.55, color: MAGENTA},
    {values: baddeleyiteA, lo: 3.27, hi: 3.98, color: CYAN}
  ],
  title: titleA, titlePos: [100, 47], titleSize: 25,
  xTitlePos: [404, 677], yTitlePos: [31, 309],
  legend: [
    {kind: "obs", sx: 650.7, sy: 22.3, tx: 686.7, ty: 31, label: legendA[0]},
    {kind: "line", sx: 620.7, sx2: 678.3, sy: 61, color: GREEN, tx: 685.7, ty: 70, label: legendA[1]},
    {kind: "tick", sx: 643.7, sy: 99, color: MAGENTA, tx: 680, ty: 107, label: legendA[2]},
    {kind: "tick", sx: 644.7, sy: 135.5, color: CYAN, tx: 680, ty: 145, label: legendA[3]},
    {kind: "line", sx: 615, sx2: 676, sy: 169.7, color: "#000", tx: 691, ty: 178, label: legendA[4]}
  ]
});

drawPanel({
  xRange: [63.3, 765.3], yDomain: [0, 18], yRange: [1450, 879], tickPad: 14,
  obs: obsB, obsMid: obsBmid, calc: calcB, diff: diffB,
  phases: [
    {values: pbo2B, lo: 1.87, hi: 2.29, color: MAGENTA}
  ],
  title: titleB, titlePos: [105, 880], titleSize: 26,
  xTitlePos: [416.7, 1523], yTitlePos: [33, 1142],
  legend: [
    {kind: "obs", sx: 668, sy: 852.7, tx: 705, ty: 860, label: legendB[0]},
    {kind: "line", sx: 638.3, sx2: 697, sy: 892.3, color: GREEN, tx: 704.3, ty: 900, label: legendB[1]},
    {kind: "tick", sx: 661.7, sy: 931, color: MAGENTA, tx: 690.7, ty: 940, label: legendB[2], sub: "2"},
    {kind: "line", sx: 631, sx2: 693, sy: 974, color: "#000", tx: 709.3, ty: 983, label: legendB[3]}
  ]
});
</script>
</body></html>
